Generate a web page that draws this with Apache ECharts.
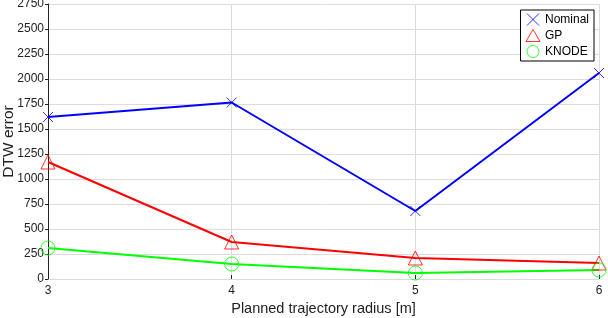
<!DOCTYPE html>
<html><head><meta charset="utf-8">
<script src="https://cdn.jsdelivr.net/npm/echarts@6/dist/echarts.min.js"></script>
<style>html,body{margin:0;padding:0;background:#fff}#c{width:608px;height:318px}</style>
</head><body><div id="c"></div>
<script>
var categories = [3, 4, 5, 6];
var nominal = [1620, 1765, 680, 2060];
var gp = [1170, 370, 210, 160];
var knode = [310, 150, 60, 90];
var yTicks = [0, 250, 500, 750, 1000, 1250, 1500, 1750, 2000, 2250, 2500, 2750];

var crossPath = 'path://M0,0L10,10M10,0L0,10';
var font = 'Liberation Sans, Arial, sans-serif';
function pts(arr){ return arr.map(function(v,i){ return [categories[i], v]; }); }
function mk(name, data, color, symbol, size){
  return {
    name: name, type: 'line', data: pts(data), symbol: symbol, symbolSize: size,
    showAllSymbol: true,
    lineStyle: {color: color, width: 2},
    itemStyle: {color: 'rgba(0,0,0,0)', borderColor: color, borderWidth: 1, opacity: 0.8},
    emphasis: {disabled: true}, animation: false, z: 3
  };
}
var chart = echarts.init(document.getElementById('c'), null, {renderer: 'canvas'});
chart.setOption({
  animation: false,
  grid: {left: 48, right: 9, top: 4, bottom: 39, containLabel: false, outerBoundsMode: 'none'},
  legend: {
    right: 14, top: 10, orient: 'vertical', itemGap: 3, itemWidth: 14, itemHeight: 12,
    padding: [3, 5, 3, 5], borderColor: '#000', borderWidth: 1, backgroundColor: '#fff',
    textStyle: {fontFamily: font, fontSize: 12, color: '#000'},
    data: [
      {name: 'Nominal', icon: crossPath, itemStyle: {color: 'rgba(0,0,0,0)', borderColor: '#0000ff', borderWidth: 1}},
      {name: 'GP', icon: 'triangle', itemStyle: {color: 'rgba(0,0,0,0)', borderColor: '#ff0000', borderWidth: 1}},
      {name: 'KNODE', icon: 'circle', itemStyle: {color: 'rgba(0,0,0,0)', borderColor: '#00ff00', borderWidth: 1}}
    ]
  },
  xAxis: {
    type: 'value', min: 3, max: 6, interval: 1,
    name: 'Planned trajectory radius [m]', nameLocation: 'middle', nameGap: 22,
    nameMoveOverlap: false,
    nameTextStyle: {fontFamily: font, fontSize: 14.5, color: '#222'},
    axisLine: {show: false},
    axisTick: {show: true, inside: true, length: 4, lineStyle: {color: '#222'}},
    axisLabel: {fontFamily: font, fontSize: 12, color: '#222', margin: 6},
    splitLine: {show: true, lineStyle: {color: '#dcdcdc', width: 1}}
  },
  yAxis: {
    type: 'value', min: 0, max: 2750, interval: 250,
    name: 'DTW error', nameLocation: 'middle', nameGap: 31,
    nameMoveOverlap: false,
    nameTextStyle: {fontFamily: font, fontSize: 15.5, color: '#222'},
    axisLine: {show: true, lineStyle: {color: '#222', width: 1}},
    axisTick: {show: true, length: 3, lineStyle: {color: '#222'}},
    axisLabel: {fontFamily: font, fontSize: 12, color: '#222', margin: 4,
      formatter: function(v){ return yTicks.indexOf(v) >= 0 ? String(v) : ''; }},
    splitLine: {show: true, lineStyle: {color: '#dcdcdc', width: 1}}
  },
  series: [
    mk('Nominal', nominal, '#0000ff', crossPath, 10),
    mk('GP', gp, '#ff0000', 'triangle', 14),
    mk('KNODE', knode, '#00ff00', 'circle', 14)
  ]
});
</script></body></html>
